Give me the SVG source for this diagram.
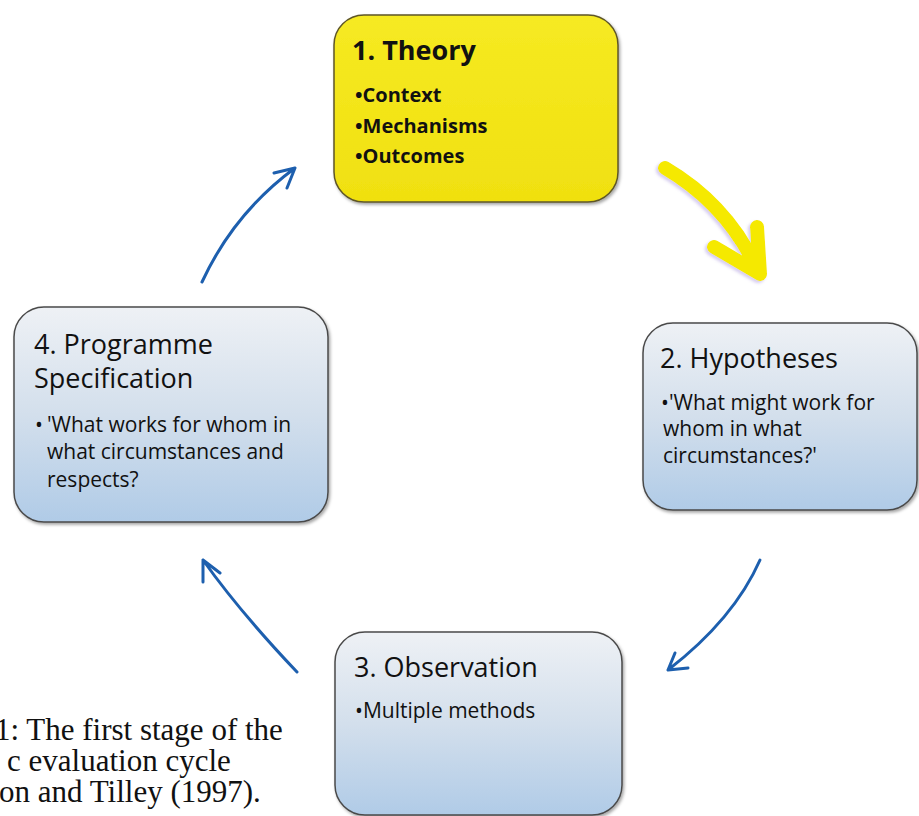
<svg xmlns="http://www.w3.org/2000/svg" width="919" height="816" viewBox="0 0 919 816">
<defs>
<linearGradient id="blueFill" x1="0" y1="0" x2="0" y2="1">
<stop offset="0" stop-color="#eef1f5"/>
<stop offset="0.5" stop-color="#d3dfec"/>
<stop offset="1" stop-color="#b0cbe7"/>
</linearGradient>
<linearGradient id="yellowFill" x1="0" y1="0" x2="0" y2="1">
<stop offset="0" stop-color="#f6ea22"/>
<stop offset="1" stop-color="#f0e010"/>
</linearGradient>
<filter id="shadow" x="-10%" y="-10%" width="120%" height="120%">
<feDropShadow dx="1.5" dy="2" stdDeviation="1.5" flood-color="#000" flood-opacity="0.35"/>
</filter>
<filter id="ashadow" x="-20%" y="-20%" width="140%" height="140%">
<feDropShadow dx="-2" dy="2" stdDeviation="1.5" flood-color="#8a6fd0" flood-opacity="0.35"/>
</filter>
</defs>
<style>
.box{stroke:#4a4a4a;stroke-width:1.5;filter:url(#shadow)}
.blue{fill:url(#blueFill)}
.yellow{fill:url(#yellowFill);stroke:#5e5628}
.title{font-family:"Open Sans","Noto Sans",sans-serif;font-size:27px;fill:#111}
.tb{font-weight:bold}
.body{font-family:"Open Sans","Noto Sans",sans-serif;font-size:21px;fill:#111}
.bb{font-family:"Open Sans","Noto Sans",sans-serif;font-size:20px;font-weight:bold;fill:#111}
.cap{font-family:"Liberation Serif","Times New Roman",serif;font-size:31px;fill:#111}
.barrow{fill:none;stroke:#1d5fae;stroke-width:3;stroke-linecap:round;stroke-linejoin:round}
.yarrow{fill:none;stroke:#f5e900;stroke-width:14;stroke-linecap:round;stroke-linejoin:round;filter:url(#ashadow)}
</style>
<rect width="919" height="816" fill="#ffffff"/>

<g id="connectors">
<path class="yarrow" d="M665,168 Q728,205 758,271 M714,247 L760,274 L757,227"/>
<path class="barrow" d="M760,560 Q734,619 668,670 M675,653 L668,670 L688,668"/>
<path class="barrow" d="M297,672 Q240,612 203,560 M203,582 L203,560 L220,573"/>
<path class="barrow" d="M202,282 Q234,213 295,168 M274,173 L295,168 L287,188"/>
</g>

<g id="node1">
<rect class="box yellow" x="334" y="15" width="284" height="187" rx="30" ry="30"/>
<text class="title tb" x="352" y="60">1. Theory</text>
<text class="bb" x="355" y="102">•Context</text>
<text class="bb" x="355" y="133">•Mechanisms</text>
<text class="bb" x="355" y="163">•Outcomes</text>
</g>

<g id="node2">
<rect class="box blue" x="643" y="323" width="274" height="187" rx="30" ry="30"/>
<text class="title" x="660" y="368">2. Hypotheses</text>
<text class="body" x="661" y="410">•'What might work for</text>
<text class="body" x="663" y="436">whom in what</text>
<text class="body" x="663" y="463">circumstances?'</text>
</g>

<g id="node3">
<rect class="box blue" x="335" y="632" width="287" height="183" rx="30" ry="30"/>
<text class="title" x="354" y="677">3. Observation</text>
<text class="body" x="355" y="718">•Multiple methods</text>
</g>

<g id="node4">
<rect class="box blue" x="14" y="307" width="314" height="215" rx="30" ry="30"/>
<text class="title" x="34" y="354">4. Programme</text>
<text class="title" x="34" y="388">Specification</text>
<text class="body" x="35" y="432">•</text>
<text class="body" x="47" y="432">'What works for whom in</text>
<text class="body" x="47" y="459">what circumstances and</text>
<text class="body" x="47" y="487">respects?</text>
</g>

<g id="caption">
<text class="cap" x="-5" y="740">1: The first stage of the</text>
<text class="cap" x="7" y="771">c evaluation cycle</text>
<text class="cap" x="-1" y="802">on and Tilley (1997).</text>
</g>
</svg>
